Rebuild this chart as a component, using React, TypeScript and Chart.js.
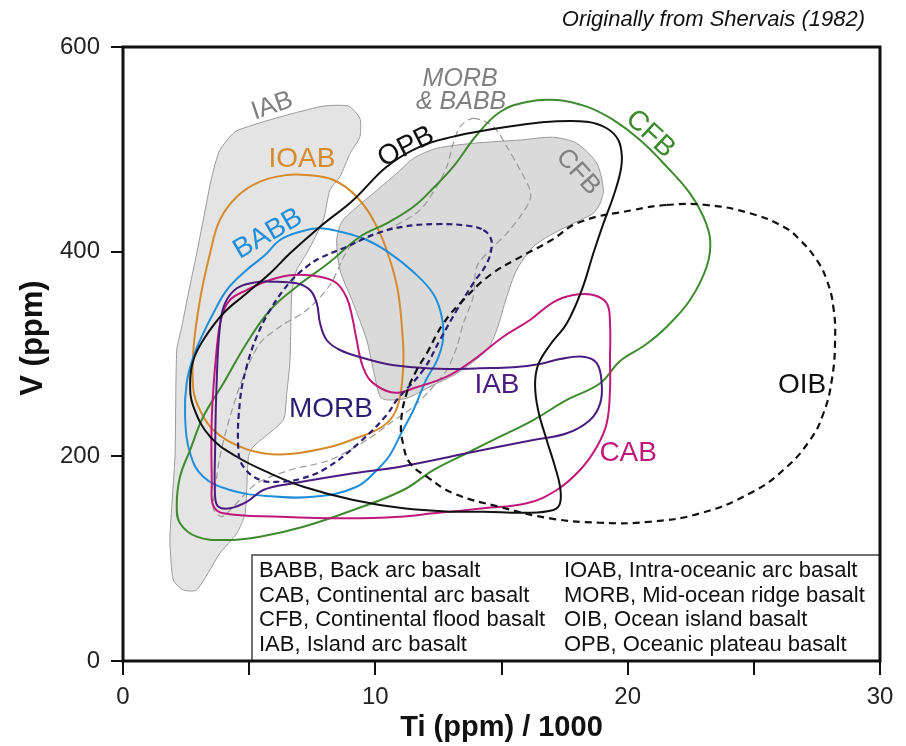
import React, { useEffect, useRef } from 'react';
import { Chart, registerables } from 'chart.js';

Chart.register(...registerables);

type P = [number, number];

const FONT = "'Liberation Sans', Arial, Helvetica, sans-serif";

// ---- axis ----
const xRange: P = [0, 30];
const yRange: P = [0, 600];
const xTitle = 'Ti (ppm) / 1000';
const yTitle = 'V (ppm)';
const sourceNote = 'Originally from Shervais (1982)';

// ---- Shervais (1982) grey fields ----
const iabFieldShervais: P[] = [
  [4.51, 518.2], [7.81, 541.7], [8.93, 542.3], [9.39, 530.3], [9.39, 512.4], [9.0, 496.1],
  [8.6, 473.3], [8.2, 460.3], [7.94, 431.0], [7.28, 398.4], [6.88, 382.1], [6.69, 359.3],
  [6.62, 294.1], [6.49, 261.6], [6.35, 235.5], [5.16, 209.4], [4.97, 199.6], [4.84, 144.3],
  [4.51, 124.8], [3.84, 105.2], [2.92, 69.4], [2.39, 69.4], [1.99, 79.2], [1.86, 118.2],
  [1.93, 150.8], [2.06, 199.6], [2.13, 303.9], [2.33, 326.7], [2.59, 359.3], [2.92, 398.4],
  [3.18, 431.0], [3.52, 473.3], [3.84, 499.3],
];
const cfbFieldShervais: P[] = [
  [8.47, 411.4], [8.6, 382.1], [9.12, 349.8], [9.66, 313.7], [9.92, 284.4], [10.19, 258.3],
  [10.45, 255.1], [11.24, 256.7], [12.17, 268.1], [13.23, 281.1], [14.42, 303.9], [14.81, 323.5],
  [15.21, 356.0], [15.6, 382.1], [16.26, 404.9], [17.06, 417.9], [17.85, 427.7], [18.64, 437.5],
  [18.91, 447.3], [19.04, 460.3], [18.78, 486.4], [17.98, 505.9], [17.06, 511.8], [15.74, 509.1],
  [13.88, 505.9], [12.43, 501.0], [11.51, 491.2], [10.85, 476.6], [9.92, 457.0], [9.13, 440.7],
  [8.67, 429.2],
];
const morbBabbFieldShervais: P[] = [
  [13.88, 530.3], [14.68, 522.1], [15.21, 502.6], [15.74, 479.8], [16.13, 460.3], [16.13, 450.5],
  [15.74, 434.2], [15.21, 417.9], [14.55, 401.6], [14.02, 385.3], [13.88, 356.0], [13.49, 330.0],
  [13.23, 307.1], [12.83, 284.4], [12.17, 264.8], [11.51, 248.5], [10.58, 232.3], [9.66, 216.0],
  [8.2, 196.4], [6.62, 186.6], [5.3, 173.6], [4.37, 150.8], [3.91, 141.0], [3.58, 149.2],
  [3.65, 167.1], [3.84, 199.6], [4.24, 238.7], [4.77, 277.8], [5.43, 310.5], [6.22, 326.7],
  [7.28, 343.0], [8.2, 367.4], [9.0, 404.9], [9.79, 414.6], [10.71, 424.4], [11.77, 440.7],
  [12.43, 463.5], [12.83, 483.0], [13.09, 505.9], [13.36, 522.1],
];

// ---- coloured fields ----
const ioab: P[] = [
  [2.79, 264.8], [2.79, 303.9], [3.05, 352.8], [3.45, 398.4], [3.84, 431.0], [4.51, 453.7],
  [5.43, 468.4], [6.49, 474.9], [7.28, 474.9], [8.34, 470.0], [9.26, 453.7], [10.06, 424.4],
  [10.58, 391.9], [10.91, 359.3], [11.09, 313.7], [11.11, 290.9], [10.98, 258.3], [10.7, 239.4],
  [10.19, 227.7], [9.26, 217.9], [8.2, 209.1], [6.62, 202.3], [5.56, 203.0], [4.64, 209.4],
  [3.58, 225.7], [3.05, 245.3],
];
const babb: P[] = [
  [2.46, 238.7], [2.52, 271.4], [2.79, 297.4], [3.18, 320.2], [3.58, 339.8], [4.11, 362.5],
  [4.9, 382.1], [5.63, 396.7], [6.22, 411.4], [7.02, 419.5], [7.81, 422.8], [8.6, 419.5],
  [9.66, 411.4], [10.58, 398.4], [11.51, 380.1], [12.3, 358.6], [12.63, 336.5], [12.68, 313.7],
  [12.45, 294.1], [12.01, 274.6], [11.51, 245.3], [11.05, 223.8], [10.58, 201.3], [10.19, 189.9],
  [9.26, 170.3], [7.54, 160.6], [5.7, 161.2], [4.24, 167.1], [3.18, 180.1], [2.66, 203.0],
];
const opb: P[] = [
  [2.66, 271.4], [2.79, 294.1], [3.18, 313.7], [3.98, 339.8], [4.9, 359.3], [5.83, 378.9],
  [6.62, 398.4], [7.81, 424.4], [9.13, 450.5], [10.45, 483.0], [11.77, 502.6], [13.09, 512.4],
  [14.42, 518.9], [15.74, 523.8], [16.92, 527.0], [18.38, 527.0], [19.17, 520.6], [19.63, 509.1],
  [19.77, 492.8], [19.7, 476.6], [19.43, 453.7], [19.04, 427.7], [18.64, 398.4], [18.18, 362.5],
  [17.59, 330.0], [16.92, 308.8], [16.45, 289.3], [16.33, 269.7], [16.45, 245.3], [16.79, 216.0],
  [17.12, 189.9], [17.32, 170.3], [17.32, 154.1], [17.06, 147.6], [16.0, 144.9], [14.28, 145.9],
  [13.09, 145.9], [11.11, 149.2], [9.13, 157.3], [7.15, 170.3], [5.83, 183.4], [4.51, 199.6],
  [3.45, 219.2], [2.79, 248.5],
];
const cfb: P[] = [
  [2.13, 152.4], [2.26, 180.1], [2.66, 206.2], [3.18, 238.7], [3.98, 271.4], [4.9, 310.5],
  [5.83, 343.0], [6.88, 365.8], [8.2, 389.9], [9.39, 414.6], [10.45, 427.7], [11.51, 443.9],
  [12.3, 462.2], [13.09, 483.0], [14.02, 514.0], [14.94, 536.5], [16.0, 546.3], [17.19, 548.2],
  [18.38, 541.7], [19.43, 528.7], [20.49, 509.1], [21.55, 483.0], [22.47, 457.0], [23.0, 434.2],
  [23.27, 411.4], [23.13, 385.3], [22.47, 352.8], [21.55, 326.7], [20.69, 308.8], [19.7, 293.2],
  [18.91, 271.4], [17.59, 255.1], [16.26, 235.5], [14.94, 219.2], [13.62, 203.0], [12.3, 186.6],
  [11.11, 167.1], [9.13, 147.6], [7.15, 131.2], [5.43, 121.5], [4.11, 118.2], [2.92, 121.5],
  [2.26, 134.6],
];
const cab: P[] = [
  [6.75, 377.2], [7.81, 375.5], [8.47, 369.1], [8.87, 354.7], [9.08, 336.5], [9.26, 313.7],
  [9.46, 290.9], [9.79, 274.6], [10.45, 263.8], [10.98, 262.4], [11.51, 266.5], [12.83, 277.8],
  [13.88, 294.1], [15.07, 316.9], [16.13, 333.2], [17.06, 350.8], [17.85, 357.7], [18.64, 357.7],
  [19.17, 349.5], [19.3, 330.0], [19.3, 294.1], [19.3, 264.8], [19.17, 232.3], [18.78, 209.4],
  [18.11, 186.6], [17.19, 167.1], [16.0, 154.1], [14.28, 149.2], [12.3, 144.3], [10.98, 141.0],
  [8.87, 139.4], [6.22, 141.0], [3.98, 144.3], [3.57, 152.4], [3.52, 173.6], [3.52, 238.7],
  [3.71, 303.9], [3.91, 336.5], [4.24, 352.8], [4.9, 362.5], [5.83, 372.3],
];
const iab: P[] = [
  [5.16, 369.7], [5.83, 370.7], [6.88, 369.1], [7.41, 362.5], [7.68, 349.5], [7.81, 330.0],
  [8.07, 313.7], [8.6, 303.9], [9.52, 296.1], [10.45, 290.2], [11.51, 287.0], [12.83, 285.3],
  [14.15, 286.0], [15.47, 287.0], [16.53, 290.2], [17.32, 295.1], [18.24, 297.4], [18.78, 290.9],
  [18.97, 271.4], [18.91, 251.8], [18.51, 235.5], [17.59, 222.5], [16.26, 216.0], [13.62, 203.0],
  [10.98, 189.9], [9.13, 183.4], [6.75, 173.6], [5.56, 167.1], [4.9, 155.4], [4.24, 149.2],
  [3.78, 150.8], [3.65, 160.6], [3.65, 206.2], [3.71, 271.4], [3.84, 326.7], [4.04, 349.5],
  [4.51, 364.2],
];
const morb: P[] = [
  [14.28, 421.2], [14.55, 414.3], [14.61, 404.9], [14.42, 388.6], [13.88, 369.1], [13.23, 343.0],
  [12.56, 313.7], [11.9, 284.4], [10.85, 255.1], [10.45, 240.4], [9.39, 214.0], [8.07, 188.6],
  [7.02, 177.9], [6.22, 175.2], [5.43, 176.9], [4.77, 189.9], [4.57, 206.2], [4.64, 255.1],
  [4.9, 287.6], [5.3, 316.9], [5.83, 343.0], [6.62, 370.4], [7.28, 385.3], [7.81, 393.8],
  [8.87, 404.9], [10.06, 417.9], [11.11, 424.4], [12.43, 427.0], [13.75, 425.1],
];
const oib: P[] = [
  [21.55, 445.6], [23.13, 445.6], [24.85, 437.5], [26.17, 424.4], [26.83, 411.4], [27.49, 391.9],
  [27.89, 372.3], [28.15, 346.2], [28.22, 313.7], [28.09, 274.6], [27.76, 242.1], [27.23, 216.0],
  [26.17, 186.6], [24.85, 163.9], [22.87, 144.3], [20.89, 136.1], [18.91, 135.1], [16.92, 139.4],
  [14.94, 150.5], [13.09, 163.9], [12.04, 180.1], [11.38, 193.2], [11.11, 211.1], [11.02, 232.6],
  [11.24, 261.6], [11.64, 284.4], [12.04, 300.7], [12.7, 330.0], [13.49, 352.8], [14.55, 377.2],
  [15.6, 392.8], [16.92, 410.4], [18.11, 429.0], [20.23, 440.7],
];

// ---- in-plot labels ----
const labelTexts = ['IAB', 'IOAB', 'BABB', 'OPB', 'MORB', '& BABB', 'CFB', 'CFB', 'MORB', 'IAB', 'CAB', 'OIB'];
const labelX = [5.91, 7.09, 5.75, 11.22, 13.36, 13.4, 18.03, 20.89, 8.24, 14.82, 20.02, 26.91];
const labelY = [542.3, 490.6, 417.3, 502.3, 568.7, 546.3, 477.9, 515.0, 246.3, 269.7, 203.3, 269.7];

// ---- key ----
const keyLeft = ['BABB, Back arc basalt', 'CAB, Continental arc basalt', 'CFB, Continental flood basalt', 'IAB, Island arc basalt'];
const keyRight = ['IOAB, Intra-oceanic arc basalt', 'MORB, Mid-ocean ridge basalt', 'OIB, Ocean island basalt', 'OPB, Oceanic plateau basalt'];

const GREY_TXT = '#808080';
const labelStyle = [
  { c: GREY_TXT, s: 26, r: -19, i: false },
  { c: '#d68a2c', s: 28, r: 0, i: false },
  { c: '#1f8fdb', s: 28, r: -30, i: false },
  { c: '#111111', s: 28, r: -27, i: false },
  { c: GREY_TXT, s: 25, r: 0, i: true },
  { c: GREY_TXT, s: 25, r: 0, i: true },
  { c: GREY_TXT, s: 26, r: 48, i: false },
  { c: '#3e8a2e', s: 28, r: 43, i: false },
  { c: '#2a1f73', s: 28, r: 0, i: false },
  { c: '#4b1c80', s: 28, r: 0, i: false },
  { c: '#c2177a', s: 28, r: 0, i: false },
  { c: '#111111', s: 28, r: 0, i: false },
];

const xy = (pts: P[]) => pts.map(([x, y]) => ({ x, y }));

const line = (label: string, pts: P[], color: string, extra: any = {}) => ({
  label,
  data: xy(pts),
  showLine: true,
  borderColor: color,
  backgroundColor: color,
  borderWidth: 2,
  pointRadius: 0,
  pointHoverRadius: 0,
  tension: 0.4,
  fill: false,
  spanGaps: true,
  ...extra,
});

const closeLoops = {
  id: 'closeLoops',
  afterDatasetsUpdate(chart: any) {
    chart.data.datasets.forEach((_d: any, i: number) => {
      const l: any = chart.getDatasetMeta(i).dataset;
      if (l) {
        l._loop = true;
        l._fullLoop = true;
        delete l._segments;
        l._path = undefined;
        l._pointsUpdated = false;
      }
    });
  },
};

const overlay = {
  id: 'overlay',
  afterDatasetsDraw(chart: any) {
    const { ctx, chartArea: a, scales } = chart;
    // in-plot labels
    labelTexts.forEach((t, i) => {
      const st = labelStyle[i];
      ctx.save();
      ctx.translate(scales.x.getPixelForValue(labelX[i]), scales.y.getPixelForValue(labelY[i]));
      ctx.rotate((st.r * Math.PI) / 180);
      ctx.font = `${st.i ? 'italic ' : ''}${st.s}px ${FONT}`;
      ctx.fillStyle = st.c;
      ctx.textAlign = 'center';
      ctx.textBaseline = 'middle';
      ctx.fillText(t, 0, 0);
      ctx.restore();
    });
    // key box
    const bx = 252, by = a.bottom - 106;
    ctx.save();
    ctx.fillStyle = '#ffffff';
    ctx.fillRect(bx, by, a.right - bx, a.bottom - by);
    ctx.strokeStyle = '#444';
    ctx.lineWidth = 1.5;
    ctx.strokeRect(bx, by, a.right - bx, a.bottom - by);
    ctx.fillStyle = '#111';
    ctx.font = `22px ${FONT}`;
    ctx.textAlign = 'left';
    ctx.textBaseline = 'middle';
    keyLeft.forEach((t, i) => ctx.fillText(t, 259, by + 16 + i * 24.5));
    keyRight.forEach((t, i) => ctx.fillText(t, 564, by + 16 + i * 24.5));
    ctx.restore();
    // frame
    ctx.save();
    ctx.strokeStyle = '#111';
    ctx.lineWidth = 3;
    ctx.strokeRect(a.left, a.top, a.right - a.left, a.bottom - a.top);
    ctx.restore();
    // y-axis title
    ctx.save();
    ctx.translate(33, 338);
    ctx.rotate(-Math.PI / 2);
    ctx.font = `bold 31px ${FONT}`;
    ctx.fillStyle = '#111';
    ctx.textAlign = 'center';
    ctx.textBaseline = 'middle';
    ctx.fillText(yTitle, 0, 0);
    ctx.restore();
    // source note
    ctx.save();
    ctx.font = `italic 22px ${FONT}`;
    ctx.fillStyle = '#111';
    ctx.textAlign = 'right';
    ctx.textBaseline = 'middle';
    ctx.fillText(sourceNote, 865, 20);
    ctx.restore();
  },
};

export default function App() {
  const ref = useRef<HTMLCanvasElement | null>(null);
  useEffect(() => {
    document.body.style.margin = '0';
    const canvas = ref.current;
    if (!canvas) return;
    const tickFont = { family: FONT, size: 24 };
    const chart = new Chart(canvas, {
      type: 'scatter',
      data: {
        datasets: [
          line('OIB', oib, '#111111', { borderDash: [7, 5], borderWidth: 2.2, tension: 0.45 }),
          line('MORB', morb, '#2a1f73', { borderDash: [6, 4], borderWidth: 2.2 }),
          line('OPB', opb, '#111111'),
          line('IAB', iab, '#4b1c80'),
          line('CAB', cab, '#c2177a'),
          line('CFB', cfb, '#3e8a2e'),
          line('BABB', babb, '#1f8fdb'),
          line('IOAB', ioab, '#d68a2c'),
          line('MORB & BABB (Shervais)', morbBabbFieldShervais, '#9a9a9a', { borderDash: [7, 4], borderWidth: 1.2, tension: 0.3 }),
          line('CFB (Shervais)', cfbFieldShervais, '#9a9a9a', { borderWidth: 1, tension: 0.25, fill: 'shape', backgroundColor: '#dadada' }),
          line('IAB (Shervais)', iabFieldShervais, '#9a9a9a', { borderWidth: 1, tension: 0.2, fill: 'shape', backgroundColor: '#e4e4e4' }),
        ],
      },
      options: {
        animation: false,
        responsive: false,
        events: [],
        layout: { padding: { top: 47, right: 26, bottom: 0, left: 0 } },
        plugins: { legend: { display: false }, tooltip: { enabled: false }, title: { display: false } },
        scales: {
          x: {
            type: 'linear',
            min: xRange[0],
            max: xRange[1],
            afterFit: (s: any) => { s.height = 85; },
            border: { display: false },
            grid: { display: true, drawOnChartArea: false, drawTicks: true, tickLength: 14, color: '#111', lineWidth: 2 },
            ticks: {
              stepSize: 5,
              autoSkip: false,
              maxRotation: 0,
              padding: 8,
              color: '#222',
              font: tickFont,
              callback: (v: any) => (Number(v) % 10 === 0 ? String(v) : ''),
            },
            title: { display: true, text: xTitle, color: '#111', font: { family: FONT, size: 29, weight: 'bold', lineHeight: 1 }, padding: { top: 0, bottom: 4 } },
          },
          y: {
            type: 'linear',
            min: yRange[0],
            max: yRange[1],
            afterFit: (s: any) => { s.width = 123; },
            border: { display: false },
            grid: { display: true, drawOnChartArea: false, drawTicks: true, tickLength: 12, color: '#111', lineWidth: 2 },
            ticks: { stepSize: 200, padding: 11, color: '#222', font: tickFont },
          },
        },
      },
      plugins: [closeLoops, overlay],
    } as any);
    return () => chart.destroy();
  }, []);
  return (
    <div style={{ width: 906, height: 746 }}>
      <canvas ref={ref} width={906} height={746} style={{ display: 'block' }} />
    </div>
  );
}
